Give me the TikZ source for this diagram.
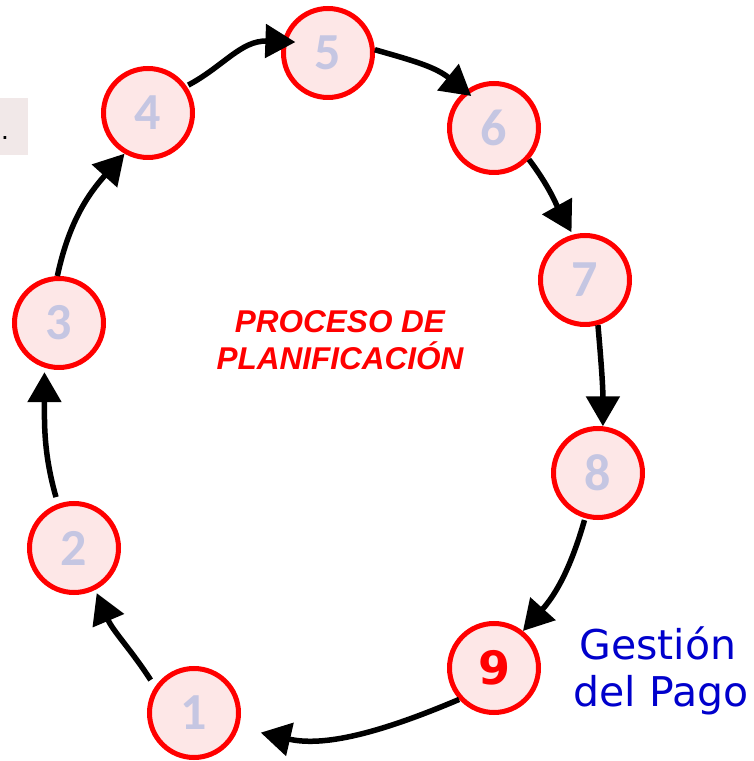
\documentclass[tikz,border=0pt]{standalone}
\usepackage{fontspec}
\setmainfont{Liberation Sans}
\newfontfamily\numfont{Carlito}
\newfontfamily\dvfont{DejaVu Sans}
\usetikzlibrary{arrows.meta}
\definecolor{ringred}{RGB}{255,0,0}
\definecolor{ringfill}{RGB}{253,231,231}
\definecolor{digitcol}{RGB}{197,198,226}
\definecolor{boxgray}{RGB}{241,232,232}
\definecolor{pagoblue}{RGB}{0,0,204}
\tikzset{
  stepcircle/.style={circle, draw=ringred, fill=ringfill, line width=5pt,
    minimum size=89pt, inner sep=0pt, text=digitcol,
    font=\numfont\bfseries\fontsize{52}{52}\selectfont},
  lastcircle/.style={stepcircle, text=ringred,
    font=\dvfont\bfseries\fontsize{46}{46}\selectfont},
  arr/.style={line width=5.5pt, -{Triangle[length=30pt,width=33pt]}},
  titletext/.style={text=ringred, font=\bfseries\itshape\fontsize{31.5}{37}\selectfont, anchor=base, inner sep=0pt},
  pagotext/.style={text=pagoblue, font=\dvfont\fontsize{41}{47}\selectfont, anchor=base, inner sep=0pt}
}
\begin{document}
\begin{tikzpicture}[x=1pt,y=1pt]
\useasboundingbox (0,0) rectangle (754,761);
\fill[white] (0,0) rectangle (754,761);
% grey box at left
\node[fill=boxgray, minimum width=28pt, minimum height=57pt, inner sep=0pt, anchor=north west] (gbox) at (0,663) {};
\node[inner sep=0pt, anchor=base, font=\fontsize{28}{28}\selectfont] (gdot) at (5,621) {.};
% circles
\node[stepcircle] (c1) at (194,48) {1};
\node[stepcircle] (c2) at (74,213) {2};
\node[stepcircle] (c3) at (59,438) {3};
\node[stepcircle] (c4) at (148,648) {4};
\node[stepcircle] (c5) at (328,708) {5};
\node[stepcircle] (c6) at (494,633) {6};
\node[stepcircle] (c7) at (585,481) {7};
\node[stepcircle] (c8) at (598,288) {8};
\node[lastcircle] (c9) at (494,93) {9};
% arrows
\draw[arr, shorten <=8pt, shorten >=3.5pt] (c1.146) to[out=123,in=293] (c2.-63);
\draw[arr, shorten <=7pt, shorten >=4.5pt] (c2.110) to[out=106,in=270] (c3.252);
\draw[arr] (c3.92) to[out=78,in=228] (c4.240);
\draw[arr, shorten <=2pt, shorten >=-13pt] (c4.35) to[out=28,in=178] (c5.166);
\draw[arr, shorten >=-8pt] (c5.4) to[out=-16,in=141] (c6.128);
\draw[arr, shorten >=2.7pt] (c6.-42) to[out=-53,in=119] (c7.105);
\draw[arr] (c7.-74) to[out=-85,in=90] (c8.84);
\draw[arr, shorten <=2pt] (c8.254) to[out=254,in=48] (c9.52);
\draw[arr, shorten >=22.6pt] (c9.222) to[out=203,in=347] (c1.-18);
% texts
\node[titletext] (t1) at (340,428) {PROCESO DE};
\node[titletext] (t2) at (340,391) {PLANIFICACIÓN};
\node[pagotext] (p1) at (658,101) {Gestión};
\node[pagotext] (p2) at (661,54) {del Pago};
\end{tikzpicture}
\end{document}
